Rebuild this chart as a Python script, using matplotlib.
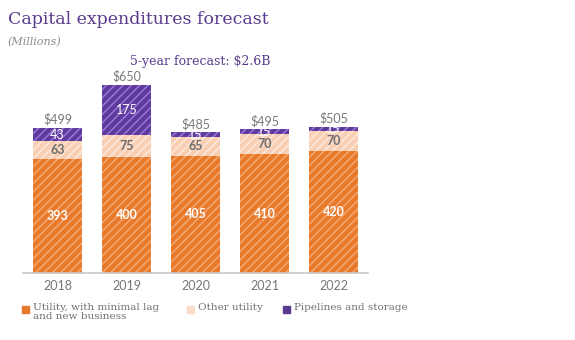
import numpy as np
import matplotlib
matplotlib.use("Agg")
from matplotlib import pyplot as plt
from matplotlib.patches import Rectangle

years = ["2018", "2019", "2020", "2021", "2022"]
utility = [393, 400, 405, 410, 420]
other_utility = [63, 75, 65, 70, 70]
pipelines = [43, 175, 15, 15, 15]
totals = ["$499", "$650", "$485", "$495", "$505"]
forecast_note = "5-year forecast: $2.6B"
legend_labels = ["Utility, with minimal lag\nand new business", "Other utility", "Pipelines and storage"]

purple = "#5b3a8e"
gray_txt = "#7a7a7a"
serif = "DejaVu Serif"
sans = "Lato"

plt.rcParams["hatch.linewidth"] = 1.1

fig = plt.figure(figsize=(5.75, 3.4), dpi=100)
ax = fig.add_axes([23 / 575, 67 / 340, 345 / 575, 203 / 340])

x = np.arange(len(years))
w = 0.7
ax.bar(x, utility, w, color="#e8782a", edgecolor="#f3a873", hatch="////", linewidth=0)
ax.bar(x, other_utility, w, bottom=utility, color="#f9cfb4", edgecolor="#fde8da", hatch="////", linewidth=0)
base2 = np.array(utility) + np.array(other_utility)
ax.bar(x, pipelines, w, bottom=base2, color="#5d3a9b", edgecolor="#9676d6", hatch="////", linewidth=0)

# segment labels
for i in range(len(years)):
    ax.text(x[i], utility[i] / 2, str(utility[i]), ha="center", va="center",
            color="white", fontsize=9, fontweight="bold", family=sans)
    ax.text(x[i], utility[i] + other_utility[i] / 2, str(other_utility[i]), ha="center", va="center",
            color="#6e6e6e", fontsize=9, fontweight="bold", family=sans)
    ax.text(x[i], base2[i] + pipelines[i] / 2, str(pipelines[i]), ha="center", va="center",
            color="white", fontsize=9, family=sans)
    ax.text(x[i], base2[i] + pipelines[i] + 8, totals[i], ha="center", va="bottom",
            color=gray_txt, fontsize=9, family=sans)

ax.set_xlim(-0.5, 4.5)
ax.set_ylim(0, 700)
ax.set_xticks(x)
ax.set_xticklabels(years, family=sans, fontsize=9, color="#777777")
ax.tick_params(axis="x", length=0, pad=5)
ax.set_yticks([])
for s in ["top", "right", "left"]:
    ax.spines[s].set_visible(False)
ax.spines["bottom"].set_color("#c8c8c8")
ax.spines["bottom"].set_linewidth(1.2)

fig.text(8 / 575, 1 - 20 / 340, "Capital expenditures forecast", family=serif, fontsize=12.5,
         color=purple, va="center")
fig.text(8 / 575, 1 - 42 / 340, "(Millions)", family=serif, fontsize=8, style="italic",
         color="#8a8a8a", va="center")
fig.text(200 / 575, 1 - 62 / 340, forecast_note, family=serif, fontsize=9, color=purple,
         ha="center", va="center")

# legend
leg_colors = ["#e8782a", "#fbdccb", "#5b3a8e"]
leg_x = [22, 187, 283]
for c, lx, lab in zip(leg_colors, leg_x, legend_labels):
    fig.add_artist(Rectangle((lx / 575, 1 - 313 / 340), 7 / 575, 7 / 340, color=c,
                             transform=fig.transFigure))
    fig.text((lx + 11) / 575, 1 - 303 / 340, lab, family=serif, fontsize=7.5, color="#707070",
             va="top", linespacing=1.05)

fig.savefig("out.png", dpi=100)
